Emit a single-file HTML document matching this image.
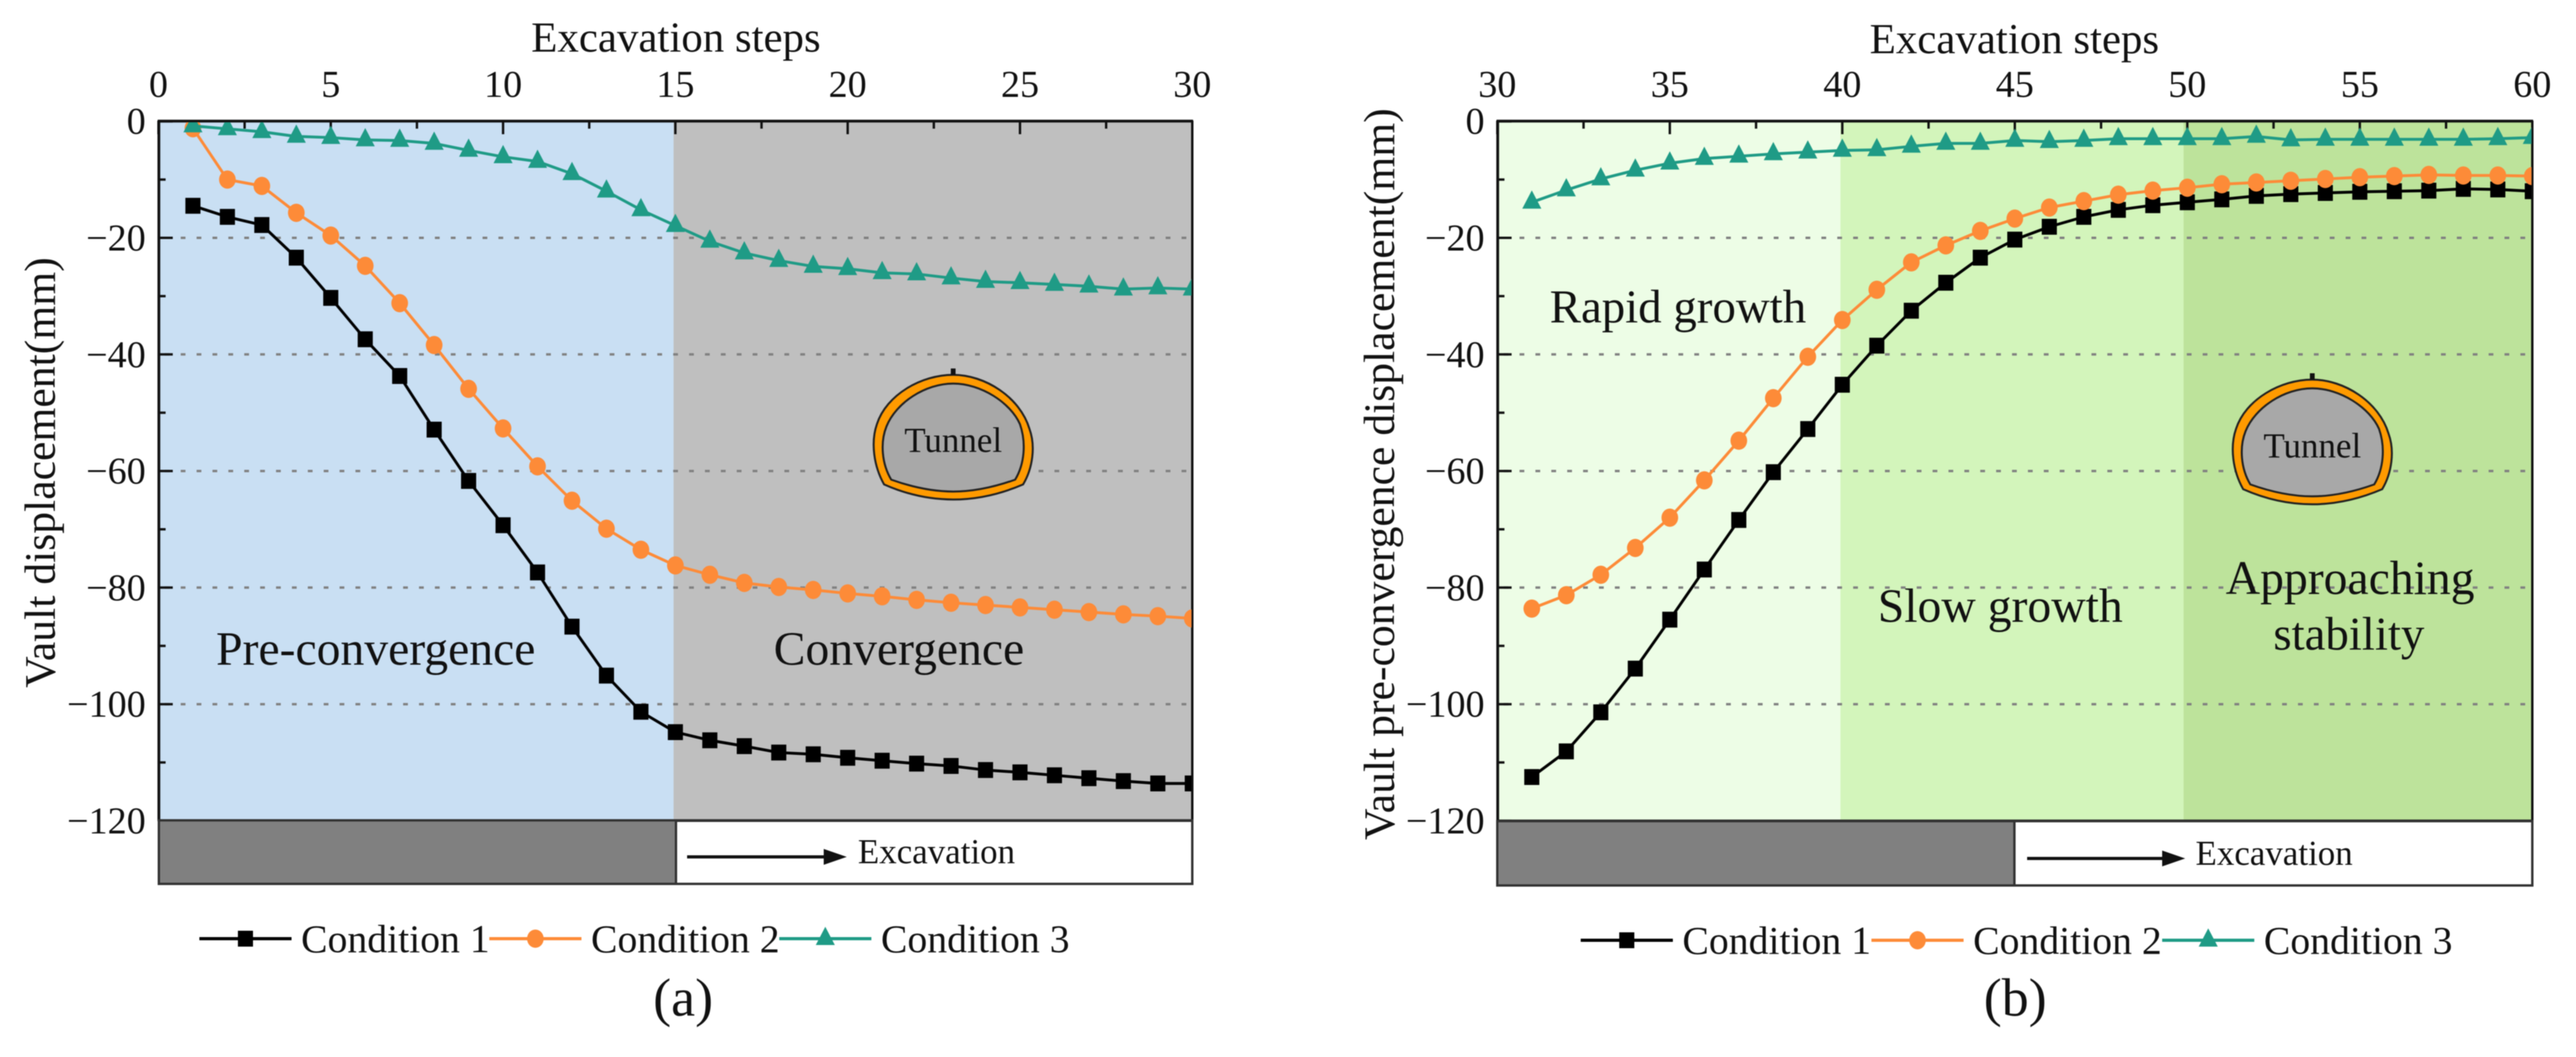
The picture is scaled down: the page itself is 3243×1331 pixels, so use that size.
<!DOCTYPE html>
<html lang="en">
<head>
<meta charset="utf-8">
<title>Vault displacement versus excavation steps</title>
<style>
html,body{margin:0;padding:0;background:#fff;}
svg{display:block;filter:blur(0.6px);}
text{font-family:"Liberation Serif",serif;fill:#111;}
</style>
</head>
<body>
<svg id="figure" xmlns="http://www.w3.org/2000/svg" width="3243" height="1331" viewBox="0 0 3243 1331">
  <defs>
    <clipPath id="clip-a"><rect x="199" y="154" width="1301" height="878"/></clipPath>
    <clipPath id="clip-b"><rect x="1885" y="154" width="1302" height="878"/></clipPath>
    <g id="tunnel-shape">
      <path fill="#ff9a00" stroke="#222" stroke-width="2.5" d="M-87 138 C-100 115 -104 85 -96 62 C-84 25 -40 0 0 0 C40 0 84 28 96 68 C104 90 100 118 88 138 C60 150 30 157 0 157 C-30 157 -60 150 -87 138 Z"/>
      <path fill="#a8a8a8" stroke="#222" stroke-width="2.5" d="M-78 132 C-90 112 -92 85 -84 65 C-72 35 -35 11 0 11 C35 11 72 35 84 62 C92 85 90 112 78 132 C50 142 25 147 0 147 C-25 147 -50 142 -78 132 Z"/>
      <rect x="-3" y="-8" width="6" height="8" fill="#111"/>
    </g>
  </defs>

  <g id="panel-a">
    <rect x="199" y="152" width="649" height="881" fill="#c9dff3"/>
    <rect x="848" y="152" width="653" height="881" fill="#bfbfbf"/>
    <g id="grid-a"></g>
    <use href="#tunnel-shape" x="1200" y="472"/>
    <text x="1200" y="569" font-size="44" text-anchor="middle">Tunnel</text>
    <g id="axes-a"></g>
    <g id="series-a" clip-path="url(#clip-a)"></g>
    <text x="272" y="837" font-size="60">Pre-convergence</text>
    <text x="974" y="837" font-size="60">Convergence</text>
    <text x="851" y="65" font-size="54" text-anchor="middle">Excavation steps</text>
    <text transform="translate(69 595) rotate(-90)" font-size="55" text-anchor="middle">Vault displacement(mm)</text>
    <g>
      <rect x="200" y="1033" width="651" height="80" fill="#808080"/>
      <rect x="200" y="1033" width="1301" height="80" fill="none" stroke="#333" stroke-width="3"/>
      <line x1="851" y1="1033" x2="851" y2="1113" stroke="#333" stroke-width="3"/>
      <line x1="865" y1="1079" x2="1040" y2="1079" stroke="#111" stroke-width="4"/>
      <polygon points="1037,1069 1066,1079 1037,1089" fill="#111"/>
      <text x="1080" y="1087" font-size="44">Excavation</text>
    </g>
    <g id="legend-a"></g>
    <text x="860" y="1279" font-size="68" text-anchor="middle">(a)</text>
  </g>

  <g id="panel-b">
    <rect x="1885" y="152" width="432" height="881" fill="#edfde6"/>
    <rect x="2317" y="152" width="432" height="881" fill="#d3f5bb"/>
    <rect x="2749" y="152" width="439" height="881" fill="#bde39b"/>
    <g id="grid-b"></g>
    <use href="#tunnel-shape" x="2911" y="478"/>
    <text x="2911" y="576" font-size="44" text-anchor="middle">Tunnel</text>
    <g id="axes-b"></g>
    <g id="series-b" clip-path="url(#clip-b)"></g>
    <text x="1951" y="406" font-size="59">Rapid growth</text>
    <text x="2364" y="783" font-size="60">Slow growth</text>
    <text x="2802" y="748" font-size="60">Approaching</text>
    <text x="2862" y="818" font-size="59">stability</text>
    <text x="2536" y="67" font-size="54" text-anchor="middle">Excavation steps</text>
    <text transform="translate(1755 597) rotate(-90)" font-size="55" text-anchor="middle">Vault pre-convergence displacement(mm)</text>
    <g>
      <rect x="1885" y="1034" width="651" height="81" fill="#808080"/>
      <rect x="1885" y="1034" width="1303" height="81" fill="none" stroke="#333" stroke-width="3"/>
      <line x1="2536" y1="1034" x2="2536" y2="1115" stroke="#333" stroke-width="3"/>
      <line x1="2552" y1="1081" x2="2725" y2="1081" stroke="#111" stroke-width="4"/>
      <polygon points="2722,1071 2751,1081 2722,1091" fill="#111"/>
      <text x="2764" y="1089" font-size="44">Excavation</text>
    </g>
    <g id="legend-b"></g>
    <text x="2537" y="1279" font-size="68" text-anchor="middle">(b)</text>
  </g>
</svg>

<script>
// Panel (a) data: excavation steps 1-30
const stepsA = [1,2,3,4,5,6,7,8,9,10,11,12,13,14,15,16,17,18,19,20,21,22,23,24,25,26,27,28,29,30];
const condition1A = [-14.5,-16.4,-17.8,-23.4,-30.3,-37.4,-43.7,-52.9,-61.7,-69.3,-77.4,-86.7,-95.1,-101.3,-104.8,-106.2,-107.2,-108.3,-108.6,-109.2,-109.7,-110.2,-110.6,-111.3,-111.7,-112.2,-112.7,-113.2,-113.6,-113.6];
const condition2A = [-1.2,-10,-11.1,-15.7,-19.6,-24.8,-31.2,-38.4,-45.9,-52.7,-59.2,-65.1,-69.9,-73.5,-76.2,-77.8,-79.2,-79.9,-80.4,-81,-81.5,-82.1,-82.6,-83,-83.4,-83.8,-84.2,-84.6,-84.9,-85.3];
const condition3A = [-0.8,-1.3,-1.8,-2.6,-2.8,-3.2,-3.3,-3.8,-5,-6.1,-6.9,-9,-12,-15.2,-17.9,-20.6,-22.6,-23.9,-24.9,-25.3,-26,-26.2,-26.9,-27.5,-27.7,-28,-28.3,-28.8,-28.6,-28.8];

// Panel (b) data: excavation steps 31-60
const stepsB = [31,32,33,34,35,36,37,38,39,40,41,42,43,44,45,46,47,48,49,50,51,52,53,54,55,56,57,58,59,60];
const condition1B = [-112.5,-108.1,-101.4,-93.9,-85.5,-76.9,-68.4,-60.2,-52.8,-45.2,-38.5,-32.5,-27.7,-23.4,-20.3,-18.1,-16.4,-15.2,-14.4,-13.9,-13.4,-12.8,-12.5,-12.3,-12.1,-12,-11.9,-11.6,-11.7,-12];
const condition2B = [-83.6,-81.3,-77.8,-73.2,-68,-61.6,-54.8,-47.5,-40.4,-34.1,-28.9,-24.2,-21.3,-18.8,-16.7,-14.8,-13.7,-12.6,-11.9,-11.4,-10.8,-10.5,-10.2,-9.9,-9.6,-9.4,-9.2,-9.3,-9.3,-9.4];
const condition3B = [-13.9,-11.8,-9.9,-8.4,-7.2,-6.4,-6,-5.6,-5.3,-5,-4.9,-4.3,-3.8,-3.8,-3.3,-3.5,-3.3,-3,-3,-3,-3,-2.6,-3.2,-3.1,-3.1,-3.1,-3.1,-3.1,-3,-2.8];

// Tick labels
const xTicksA = [0,5,10,15,20,25,30];
const xTicksB = [30,35,40,45,50,55,60];
const yTicks = [0,-20,-40,-60,-80,-100,-120];
const gridValues = [-20,-40,-60,-80,-100];
const seriesNames = ['Condition 1','Condition 2','Condition 3'];

const SVGNS = 'http://www.w3.org/2000/svg';
const COLORS = ['#000000','#fd8b38','#1f9b86'];
const MARKERS = ['square','circle','triangle'];

function make(tag, parent, attrs) {
  const el = document.createElementNS(SVGNS, tag);
  for (const k in attrs) el.setAttribute(k, attrs[k]);
  parent.appendChild(el);
  return el;
}

function yScale(v) { return 152.7 + (-v) * 7.34; }

function drawMarker(parent, kind, cx, cy, color) {
  let m;
  if (kind === 'square') {
    m = make('rect', parent, {x: cx - 9.5, y: cy - 10, width: 19, height: 20, fill: color});
  } else if (kind === 'circle') {
    m = make('ellipse', parent, {cx: cx, cy: cy, rx: 10.5, ry: 11.5, fill: color});
  } else {
    m = make('polygon', parent, {points: (cx) + ',' + (cy - 15) + ' ' + (cx + 12) + ',' + (cy + 8) + ' ' + (cx - 12) + ',' + (cy + 8), fill: color});
  }
  return m;
}

function drawPanel(id, x0, x1, startStep, xTicks, steps, seriesList, legendLines, legendY, legendBase, titleTickBase) {
  const xScale = function (s) { return x0 + (s - startStep) * (x1 - x0) / 30; };

  // dotted horizontal grid
  const grid = document.getElementById('grid-' + id);
  gridValues.forEach(function (v) {
    const ln = make('line', grid, {x1: x0 + 8, x2: x1, y1: yScale(v), y2: yScale(v), stroke: '#808080', 'stroke-width': 3, 'stroke-dasharray': '6 14'});
    
    
  });

  // series: later conditions sit on top
  const group = document.getElementById('series-' + id);
  [0, 1, 2].forEach(function (i) {
    const vals = seriesList[i];
    const g = make('g', group, {});
    
    
    const pts = vals.map(function (v, j) { return xScale(steps[j]) + ',' + yScale(v); }).join(' ');
    const line = make('polyline', g, {points: pts, fill: 'none', stroke: COLORS[i], 'stroke-width': 3.6, 'stroke-linejoin': 'round'});
    
    
    vals.forEach(function (v, j) {
      const mk = drawMarker(g, MARKERS[i], xScale(steps[j]), yScale(v), COLORS[i]);
      
      
    });
  });

  // axes frame + ticks + labels
  const axes = document.getElementById('axes-' + id);
  const topLine = make('line', axes, {x1: x0 - 1, x2: x1 + 1, y1: 152.5, y2: 152.5, stroke: '#111', 'stroke-width': 3.5});
  
  
  const leftLine = make('line', axes, {x1: x0 + 0.5, x2: x0 + 0.5, y1: 152, y2: 1034, stroke: '#111', 'stroke-width': 3.5});
  
  
  const rightLine = make('line', axes, {x1: x1, x2: x1, y1: 152, y2: 1034, stroke: '#111', 'stroke-width': 3});
  
  
  const bottomLine = make('line', axes, {x1: x0, x2: x1, y1: yScale(-120), y2: yScale(-120), stroke: '#222', 'stroke-width': 3});
  
  

  // x ticks: major at labelled positions, minor halfway
  for (let t = 0; t < xTicks.length; t++) {
    const s = xTicks[t];
    const tx = xScale(s);
    const major = make('line', axes, {x1: tx, x2: tx, y1: 152, y2: 169, stroke: '#111', 'stroke-width': 3});
    
    
    const lab = make('text', axes, {x: tx, y: titleTickBase, 'font-size': 48, 'text-anchor': 'middle'});
    lab.textContent = String(s);
    
    
    if (t < xTicks.length - 1) {
      const mx = xScale((s + xTicks[t + 1]) / 2);
      const minor = make('line', axes, {x1: mx, x2: mx, y1: 152, y2: 162, stroke: '#111', 'stroke-width': 3});
      
      
    }
  }

  // y ticks
  for (let t = 0; t < yTicks.length; t++) {
    const v = yTicks[t];
    const ty = yScale(v);
    const major = make('line', axes, {x1: x0, x2: x0 + 18, y1: ty, y2: ty, stroke: '#111', 'stroke-width': 3});
    
    
    const lab = make('text', axes, {x: x0 - 16, y: ty + 16, 'font-size': 48, 'text-anchor': 'end'});
    lab.textContent = (v < 0 ? '\u2212' + Math.abs(v) : String(v));
    
    
    if (t < yTicks.length - 1) {
      const my = yScale((v + yTicks[t + 1]) / 2);
      const minor = make('line', axes, {x1: x0, x2: x0 + 9, y1: my, y2: my, stroke: '#111', 'stroke-width': 3});
      
      
    }
  }

  // legend
  const legend = document.getElementById('legend-' + id);
  seriesNames.forEach(function (name, i) {
    const e = make('g', legend, {});
    
    
    const lx = legendLines[i];
    const ln = make('line', e, {x1: lx, x2: lx + 116, y1: legendY, y2: legendY, stroke: COLORS[i], 'stroke-width': 4});
    
    
    const mk = drawMarker(e, MARKERS[i], lx + 58, legendY, COLORS[i]);
    
    
    const tx = make('text', e, {x: lx + 128, y: legendBase, 'font-size': 50});
    tx.textContent = name;
    
    
  });
}

drawPanel('a', 199.5, 1501, 0, xTicksA, stepsA, [condition1A, condition2A, condition3A], [251, 616, 981], 1182, 1199, 122);
drawPanel('b', 1885, 3188, 30, xTicksB, stepsB, [condition1B, condition2B, condition3B], [1990, 2356, 2722], 1184, 1201, 122);
</script>
</body>
</html>
